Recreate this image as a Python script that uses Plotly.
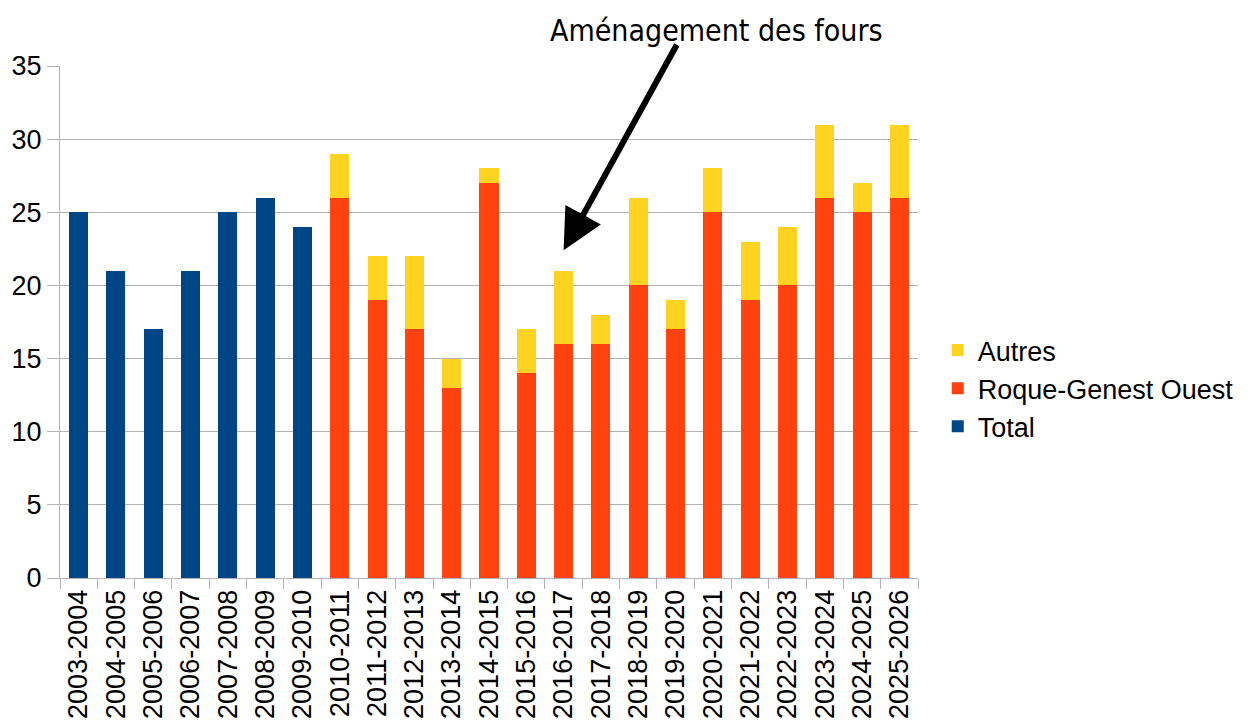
import plotly.graph_objects as go

categories = ["2003-2004", "2004-2005", "2005-2006", "2006-2007", "2007-2008", "2008-2009",
              "2009-2010", "2010-2011", "2011-2012", "2012-2013", "2013-2014", "2014-2015",
              "2015-2016", "2016-2017", "2017-2018", "2018-2019", "2019-2020", "2020-2021",
              "2021-2022", "2022-2023", "2023-2024", "2024-2025", "2025-2026"]
total = [25, 21, 17, 21, 25, 26, 24] + [None] * 16
roque = [None] * 7 + [26, 19, 17, 13, 27, 14, 16, 16, 20, 17, 25, 19, 20, 26, 25, 26]
autres = [None] * 7 + [3, 3, 5, 2, 1, 3, 5, 2, 6, 2, 3, 4, 4, 5, 2, 5]
y_ticks = [0, 5, 10, 15, 20, 25, 30, 35]

fig = go.Figure()
fig.add_trace(go.Bar(x=categories, y=total, name="Total", marker_color="#004586",
                     marker_line_width=0))
fig.add_trace(go.Bar(x=categories, y=roque, name="Roque-Genest Ouest", marker_color="#ff420e",
                     marker_line_width=0))
fig.add_trace(go.Bar(x=categories, y=autres, name="Autres", marker_color="#ffd320",
                     marker_line_width=0))

fig.update_layout(
    barmode="stack",
    bargap=0.49,
    width=1248, height=727,
    margin=dict(l=52, r=338, t=58, b=157, autoexpand=False),
    plot_bgcolor="white", paper_bgcolor="white",
    font=dict(family="Liberation Sans, Arial, sans-serif", size=27, color="#000000"),
    legend=dict(traceorder="reversed", x=1.023, y=0.37, yanchor="middle", xanchor="left",
                font=dict(size=27), itemwidth=30, tracegroupgap=0),
    showlegend=True,
)
fig.update_xaxes(type="category", tickangle=-90, showline=True, linecolor="#b3b3b3",
                 ticks="outside", tickson="boundaries", ticklen=10, tickcolor="#b3b3b3",
                 tickfont=dict(size=27), showgrid=False, automargin=False)
fig.update_yaxes(range=[0, 35], tickvals=y_ticks, showline=True, linecolor="#b3b3b3",
                 ticks="outside", ticklen=12, tickcolor="#b3b3b3", gridcolor="#b3b3b3",
                 gridwidth=1, tickfont=dict(size=27), zeroline=False, showgrid=True,
                 automargin=False)

fig.add_annotation(x="2016-2017", y=22.4, xref="x", yref="y", ax=114, ay=-207,
                   showarrow=True, arrowhead=2, arrowsize=1.35, arrowwidth=6,
                   arrowcolor="#000000", text="")
fig.add_annotation(x=0.7646, y=1.07, xref="paper", yref="paper", showarrow=False,
                   xanchor="center", yanchor="middle",
                   text="Aménagement des fours",
                   font=dict(family="Liberation Sans Narrow, DejaVu Sans Condensed, sans-serif",
                             size=30, color="#000000"))

fig.write_html("out.html")
